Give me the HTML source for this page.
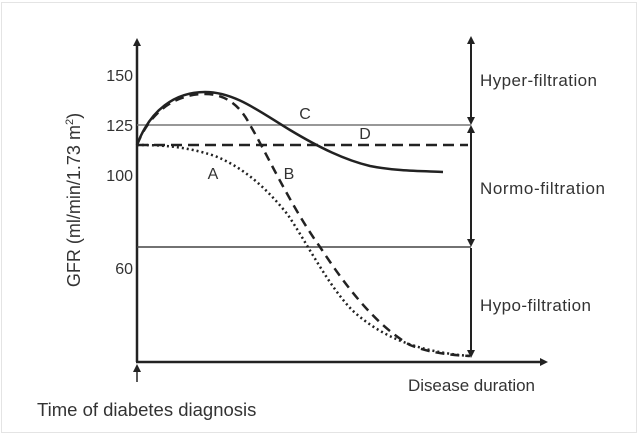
<!DOCTYPE html>
<html><head><style>
html,body{margin:0;padding:0;background:#fff;}
svg{display:block;}
text{font-family:"Liberation Sans",sans-serif;fill:#333;}
</style></head><body>
<svg width="640" height="438" viewBox="0 0 640 438" xmlns="http://www.w3.org/2000/svg">
<rect x="1.5" y="2.5" width="635" height="430" fill="#fff" stroke="#e4e4e4" stroke-width="1"/>
<defs>
<marker id="ah" markerWidth="8" markerHeight="8" refX="4" refY="4" orient="auto-start-reverse" markerUnits="userSpaceOnUse">
<path d="M0,0 L8,4 L0,8 Z" fill="#222"/></marker>
</defs>
<line x1="137" y1="362" x2="137" y2="42" stroke="#222" stroke-width="2.5" marker-end="url(#ah)"/>
<line x1="136" y1="362" x2="544" y2="362" stroke="#222" stroke-width="2.5" marker-end="url(#ah)"/>
<line x1="471" y1="40" x2="471" y2="121" stroke="#222" stroke-width="2" marker-start="url(#ah)" marker-end="url(#ah)"/>
<line x1="471" y1="129" x2="471" y2="243" stroke="#222" stroke-width="2" marker-start="url(#ah)" marker-end="url(#ah)"/>
<line x1="471" y1="248" x2="471" y2="354" stroke="#222" stroke-width="2" marker-end="url(#ah)"/>
<line x1="137" y1="125" x2="471" y2="125" stroke="#777" stroke-width="1.5"/>
<line x1="137" y1="247" x2="471" y2="247" stroke="#444" stroke-width="1.5"/>
<line x1="137" y1="145" x2="468" y2="145" stroke="#222" stroke-width="2.5" stroke-dasharray="11,6"/>
<path d="M137,145 C150,110 175,92 205,92 C235,92 260,112 290,130 C320,148 345,160 370,166 C395,171 420,171 443,172" fill="none" stroke="#222" stroke-width="2.5"/>
<path d="M137,145 C150,112 175,94 205,94 C225,94 240,105 250,125 C265,150 290,205 320,247 C345,285 375,325 410,345 C430,353 450,355 470,356" fill="none" stroke="#222" stroke-width="2.5" stroke-dasharray="9,6"/>
<path d="M137,145 C160,145 185,146 215,156 C245,168 268,190 288,215 C308,245 328,285 352,310 C382,338 420,352 470,356" fill="none" stroke="#222" stroke-width="2.5" stroke-dasharray="2,3"/>
<text x="133" y="81" font-size="16" text-anchor="end">150</text>
<text x="133" y="131" font-size="16" text-anchor="end">125</text>
<text x="133" y="181" font-size="16" text-anchor="end">100</text>
<text x="133" y="274" font-size="16" text-anchor="end">60</text>
<text transform="translate(80,200) rotate(-90)" font-size="18" text-anchor="middle">GFR (ml/min/1.73 m<tspan font-size="11" dy="-7">2</tspan><tspan dy="7">)</tspan></text>
<text x="305" y="119" font-size="16" text-anchor="middle">C</text>
<text x="365" y="139" font-size="16" text-anchor="middle">D</text>
<text x="213" y="179" font-size="16" text-anchor="middle">A</text>
<text x="289" y="179" font-size="16" text-anchor="middle">B</text>
<text x="480" y="86" font-size="17" textLength="117">Hyper-filtration</text>
<text x="480" y="194" font-size="17" textLength="125">Normo-filtration</text>
<text x="480" y="311" font-size="17" textLength="111">Hypo-filtration</text>
<text x="408" y="391" font-size="17" textLength="127">Disease duration</text>
<text x="37" y="416" font-size="18.5">Time of diabetes diagnosis</text>
<line x1="137" y1="382" x2="137" y2="368" stroke="#222" stroke-width="1.5" marker-end="url(#ah)"/>
</svg>
</body></html>
